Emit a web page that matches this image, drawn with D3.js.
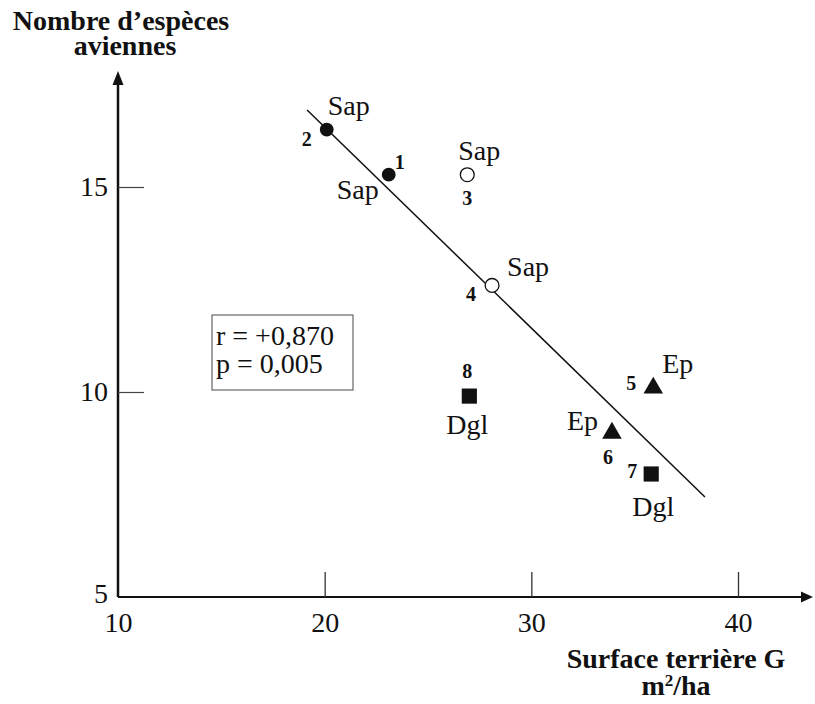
<!DOCTYPE html>
<html>
<head>
<meta charset="utf-8">
<script src="https://cdn.jsdelivr.net/npm/d3@7"></script>
<style>
  html, body { margin: 0; padding: 0; background: #fff; }
  svg { display: block; }
</style>
</head>
<body>
<div id="chart"></div>
<script>
// ---- data ----
const pointIds   = ["1", "2", "3", "4", "5", "6", "7", "8"];
const surfaceG   = [23.1, 20.1, 26.9, 28.1, 35.9, 33.9, 35.8, 27.0];
const nbEspeces  = [15.3, 16.4, 15.3, 12.6, 10.1, 9.0, 8.0, 9.9];
const essence    = ["Sap", "Sap", "Sap", "Sap", "Ep", "Ep", "Dgl", "Dgl"];
const markerType = ["filledCircle", "filledCircle", "openCircle", "openCircle", "triangle", "triangle", "square", "square"];
const regLineX   = [19.15, 38.4];
const regLineY   = [16.88, 7.44];
const xTicks     = [10, 20, 30, 40];
const yTicks     = [5, 10, 15];
const statsText  = ["r = +0,870", "p = 0,005"];
const yTitle     = ["Nombre d\u2019espèces", "aviennes"];
const xTitle     = "Surface terrière G";

// ---- layout (pixel offsets for labels, relative to marker) ----
const essenceOffset = { "1": [-52, 24], "2": [1, -15], "3": [-9, -15], "4": [15, -9],
                        "5": [9, -15], "6": [-45, -3], "7": [-19, 42], "8": [-23, 38] };
const idOffset      = { "1": [6, -6], "2": [-25, 16], "3": [-5, 30], "4": [-26, 16],
                        "5": [-27, 2], "6": [-9, 31], "7": [-24, 4], "8": [-7, -18] };

const SERIF = "'Liberation Serif', 'Times New Roman', Tinos, 'DejaVu Serif', serif";
const W = 815, H = 704;
const svg = d3.select("#chart").append("svg").attr("width", W).attr("height", H)
  .attr("font-family", SERIF);

const x = d3.scaleLinear().domain([10, 40]).range([118, 738]);
const y = d3.scaleLinear().domain([5, 15]).range([597, 187]);

const FS = 28;
const T = sel => sel.attr("font-family", SERIF).attr("fill", "#111");

// axes lines with arrows
svg.append("line").attr("x1", x(10)).attr("x2", 806).attr("y1", y(5)).attr("y2", y(5))
  .attr("stroke", "#111").attr("stroke-width", 2);
svg.append("path").attr("d", d3.line()([[813, y(5)], [801, y(5) - 5.5], [801, y(5) + 5.5]]) + "Z")
  .attr("fill", "#111");
svg.append("line").attr("x1", x(10)).attr("x2", x(10)).attr("y1", y(5)).attr("y2", 80)
  .attr("stroke", "#111").attr("stroke-width", 2.5);
svg.append("path").attr("d", d3.line()([[x(10), 71], [x(10) - 5.5, 85], [x(10) + 5.5, 85]]) + "Z")
  .attr("fill", "#111");

// y axis ticks
const yAxis = svg.append("g").attr("transform", `translate(${x(10)},0)`)
  .call(d3.axisLeft(y).tickValues(yTicks).tickSize(-26).tickPadding(10).tickFormat(d3.format("d")));
yAxis.attr("font-family", SERIF);
yAxis.select(".domain").remove();
yAxis.selectAll(".tick line").attr("stroke", "#444").attr("stroke-width", 1.2)
  .attr("stroke-opacity", d => d === 5 ? 0 : 1);
yAxis.selectAll(".tick text").call(T).attr("font-size", FS)
  .attr("dy", d => d === 5 ? "0.2em" : "0.32em");

// x axis ticks
const xAxis = svg.append("g").attr("transform", `translate(0,${y(5)})`)
  .call(d3.axisBottom(x).tickValues(xTicks).tickSize(-25).tickPadding(15).tickFormat(d3.format("d")));
xAxis.attr("font-family", SERIF);
xAxis.select(".domain").remove();
xAxis.selectAll(".tick line").attr("stroke", "#333").attr("stroke-width", 1.3)
  .attr("stroke-opacity", d => d === 10 ? 0 : 1);
xAxis.selectAll(".tick text").call(T).attr("font-size", FS);

// titles
svg.append("text").call(T).attr("x", 121).attr("y", 30).attr("text-anchor", "middle")
  .attr("font-size", FS).attr("font-weight", "bold").text(yTitle[0]);
svg.append("text").call(T).attr("x", 125).attr("y", 55).attr("text-anchor", "middle")
  .attr("font-size", FS).attr("font-weight", "bold").text(yTitle[1]);
svg.append("text").call(T).attr("x", 676).attr("y", 668).attr("text-anchor", "middle")
  .attr("font-size", FS).attr("font-weight", "bold").text(xTitle);
const unit = svg.append("text").call(T).attr("x", 676).attr("y", 695).attr("text-anchor", "middle")
  .attr("font-size", FS).attr("font-weight", "bold");
unit.append("tspan").text("m");
unit.append("tspan").attr("font-size", 17).attr("dy", -9).text("2");
unit.append("tspan").attr("dy", 9).text("/ha");

// regression line
svg.append("path")
  .attr("d", d3.line().x(d => x(d[0])).y(d => y(d[1]))(regLineX.map((v, i) => [v, regLineY[i]])))
  .attr("stroke", "#111").attr("stroke-width", 1.5).attr("fill", "none");

// stats box
svg.append("rect").attr("x", 212).attr("y", 315).attr("width", 141).attr("height", 75)
  .attr("fill", "none").attr("stroke", "#666").attr("stroke-width", 1.2);
svg.append("text").call(T).attr("x", 216).attr("y", 345).attr("font-size", FS).text(statsText[0]);
svg.append("text").call(T).attr("x", 216).attr("y", 373).attr("font-size", FS).text(statsText[1]);

// markers
const pts = pointIds.map((id, i) => ({ id, gx: surfaceG[i], n: nbEspeces[i], ess: essence[i], type: markerType[i] }));
const symFor = t => t === "triangle" ? d3.symbolTriangle : t === "square" ? d3.symbolSquare : d3.symbolCircle;
const sizeFor = t => t === "triangle" ? 165 : t === "square" ? 230 : 150;

svg.append("g").selectAll("path").data(pts).join("path")
  .attr("transform", d => `translate(${x(d.gx)},${y(d.n)})`)
  .attr("d", d => d3.symbol().type(symFor(d.type)).size(sizeFor(d.type))())
  .attr("fill", d => d.type === "openCircle" ? "#fff" : "#111")
  .attr("stroke", "#111").attr("stroke-width", d => d.type === "openCircle" ? 1.3 : 0);

// labels
svg.append("g").selectAll("text").data(pts).join("text").call(T)
  .attr("x", d => x(d.gx) + essenceOffset[d.id][0])
  .attr("y", d => y(d.n) + essenceOffset[d.id][1])
  .attr("font-size", FS).text(d => d.ess);
svg.append("g").selectAll("text").data(pts).join("text").call(T)
  .attr("x", d => x(d.gx) + idOffset[d.id][0])
  .attr("y", d => y(d.n) + idOffset[d.id][1])
  .attr("font-size", 20).attr("font-weight", "bold").text(d => d.id);
</script>
</body>
</html>
